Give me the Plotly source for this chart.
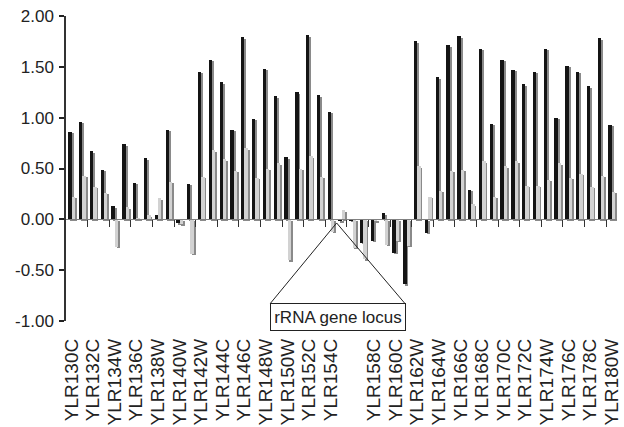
import plotly.graph_objects as go

# ---------------- data ----------------
genes = ["YLR130C", "YLR131C", "YLR132C", "YLR133W", "YLR134W", "YLR135W", "YLR136C",
         "YLR137W", "YLR138W", "YLR139C", "YLR140W", "YLR141W", "YLR142W", "YLR143W",
         "YLR144C", "YLR145W", "YLR146C", "YLR147C", "YLR148W", "YLR149C", "YLR150W",
         "YLR151C", "YLR152C", "YLR153C", "YLR154C", "YLR155C", "YLR156W", "YLR157C",
         "YLR158C", "YLR159W", "YLR160C", "YLR161W", "YLR162W", "YLR163C", "YLR164W",
         "YLR165C", "YLR166C", "YLR167W", "YLR168C", "YLR169W", "YLR170C", "YLR171W",
         "YLR172C", "YLR173W", "YLR174W", "YLR175W", "YLR176C", "YLR177W", "YLR178C",
         "YLR179C", "YLR180W"]

series_dark = [0.86, 0.96, 0.67, 0.49, 0.13, 0.74, 0.36, 0.60, 0.04, 0.88,
               -0.04, 0.35, 1.45, 1.57, 1.35, 0.88, 1.79, 0.99, 1.48, 1.21,
               0.61, 1.25, 1.81, 1.22, 1.06, -0.02, -0.01, -0.23, -0.21, 0.06,
               -0.33, -0.64, 1.75, -0.13, 1.40, 1.71, 1.80, 0.29, 1.68, 0.94,
               1.57, 1.47, 1.33, 1.45, 1.68, 1.00, 1.51, 1.45, 1.31, 1.78, 0.93]

series_light = [0.22, 0.43, 0.32, 0.26, -0.27, 0.12, 0.01, 0.04, 0.21, 0.37,
                -0.05, -0.34, 0.42, 0.68, 0.59, 0.48, 0.70, 0.41, 0.50, 0.55,
                -0.40, 0.50, 0.62, 0.42, -0.12, 0.09, -0.28, -0.39, -0.02, -0.25,
                -0.21, -0.26, 0.52, 0.22, 0.28, 0.48, 0.49, 0.15, 0.57, 0.22,
                0.52, 0.57, 0.33, 0.33, 0.39, 0.55, 0.41, 0.45, 0.32, 0.43, 0.27]

y_tick_values = [-1.0, -0.5, 0.0, 0.5, 1.0, 1.5, 2.0]
y_tick_labels = ["-1.00", "-0.50", "0.00", "0.50", "1.00", "1.50", "2.00"]

label_every = 2
hidden_labels = ["YLR156W"]
annotation_text = "rRNA gene locus"
locus_genes = ["YLR150W", "YLR155C", "YLR161W"]  # left edge, apex, right edge of the callout

# ---------------- figure ----------------
idx = list(range(len(genes)))
tickvals = idx[::label_every]
ticktext = ["" if genes[i] in hidden_labels else genes[i] for i in tickvals]
boundary_ticks = [i - 0.5 for i in idx[label_every::label_every]]

BW = 0.31      # bar width (category units)
SH_X = 0.18    # shadow shift to the right
SH_Y = 0.015   # shadow shift downward

DARK = "#141414"
LIGHT = "#d2d2d2"
SHADOW = "#8a8a8a"

fig = go.Figure()
common = dict(width=BW, marker_line_width=0, hoverinfo="skip", showlegend=False)
fig.add_trace(go.Bar(x=idx, y=series_dark, base=-SH_Y, offset=-0.29 + SH_X,
                     marker_color=SHADOW, **common))
fig.add_trace(go.Bar(x=idx, y=series_dark, offset=-0.29, marker_color=DARK, **common))
fig.add_trace(go.Bar(x=idx, y=series_light, base=-SH_Y, offset=0.02 + SH_X - 0.02,
                     marker_color=SHADOW, **common))
fig.add_trace(go.Bar(x=idx, y=series_light, offset=0.02, marker_color=LIGHT, **common))
# helper trace so the zero-line axis is rendered
fig.add_trace(go.Scatter(x=[None], y=[None], xaxis="x2", showlegend=False, hoverinfo="skip"))

FONT = "Liberation Sans, Arial, Helvetica, sans-serif"
xr = [-0.5, len(genes) - 0.5]

fig.update_layout(
    width=624, height=427, autosize=False,
    margin=dict(l=66, r=2, t=16, b=103),
    paper_bgcolor="white", plot_bgcolor="white",
    barmode="overlay", bargap=0,
    font=dict(family=FONT, color="#222", size=16),
    xaxis=dict(range=xr, tickmode="array", tickvals=tickvals, ticktext=ticktext,
               tickangle=-90, showgrid=False, zeroline=False, showline=False,
               ticks="", tickfont=dict(size=19, family=FONT, color="#222"),
               ticklabelstandoff=13, ticklabeloverflow="allow"),
    xaxis2=dict(range=xr, overlaying="x", anchor="free", position=1/3,
                tickmode="array", tickvals=boundary_ticks,
                ticks="outside", ticklen=7, tickwidth=1, tickcolor="#333",
                showline=True, linecolor="#808080", linewidth=1,
                showticklabels=False, showgrid=False, zeroline=False),
    yaxis=dict(range=[-1, 2], tickmode="array", tickvals=y_tick_values,
               ticktext=y_tick_labels, ticks="outside", ticklen=5, tickwidth=1.5,
               tickcolor="#222", showline=True, linecolor="#333", linewidth=1.5,
               showgrid=False, zeroline=False, ticklabelstandoff=2,
               tickfont=dict(size=17, family=FONT, color="#222")),
)

# callout triangle and box
left_i = genes.index(locus_genes[0]) - 1.57
apex_i = genes.index(locus_genes[1]) - 0.45
right_i = genes.index(locus_genes[2]) - 0.15
box_top = -0.825
fig.add_shape(type="path",
              path=f"M {left_i},{box_top} L {apex_i},-0.036 L {right_i},{box_top}",
              xref="x", yref="y", line=dict(color="#222", width=1))
fig.add_annotation(x=(left_i + right_i) / 2, y=box_top, xref="x", yref="y",
                   yanchor="top", xanchor="center", text=annotation_text,
                   showarrow=False, width=134, height=26, borderpad=0,
                   bordercolor="#222", borderwidth=1, bgcolor="white",
                   font=dict(size=17, family=FONT, color="#222"))

fig.write_html("out.html")
